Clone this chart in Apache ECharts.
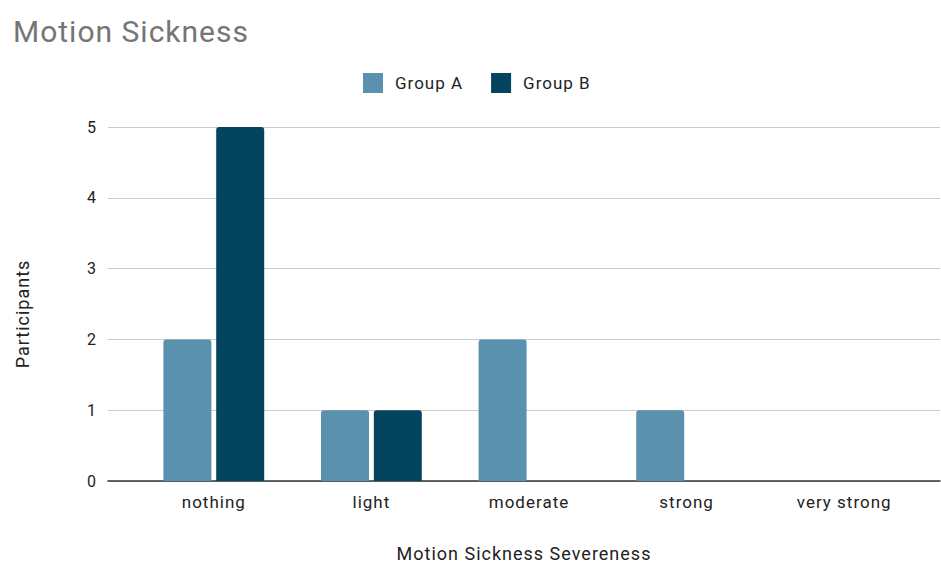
<!DOCTYPE html>
<html>
<head>
<meta charset="utf-8">
<script src="https://cdn.jsdelivr.net/npm/echarts@6/dist/echarts.min.js"></script>
<style>
  html, body { margin: 0; padding: 0; background: #fff; }
  #chart { width: 941px; height: 563px; }
  /* slightly open tracking for all chart text */
  #chart svg text { letter-spacing: 1px; }
</style>
</head>
<body>
<div id="chart"></div>
<script>
// Severity levels on the x axis
const categories = ['nothing', 'light', 'moderate', 'strong', 'very strong'];
// Number of participants per level
const groupA = [2, 1, 2, 1, 0];
const groupB = [5, 1, 0, 0, 0];
// Value axis ticks
const yTicks = [0, 1, 2, 3, 4, 5];

const FONT = 'Roboto';
const colorA = '#5a91af';
const colorB = '#03445f';
const textColor = '#222222';

const chart = echarts.init(document.getElementById('chart'), null, { renderer: 'svg' });

chart.setOption({
  backgroundColor: '#ffffff',
  animation: false,
  title: {
    text: 'Motion Sickness',
    left: 8,
    top: 11,
    textStyle: { fontFamily: FONT, fontSize: 30, fontWeight: 'normal', color: '#757575' }
  },
  legend: {
    data: ['Group A', 'Group B'],
    left: 358,
    top: 68,
    icon: 'rect',
    itemWidth: 20,
    itemHeight: 20,
    itemGap: 35,
    textStyle: { fontFamily: FONT, fontSize: 17, color: textColor, padding: [0, 0, 0, 7] }
  },
  grid: [
    // full-width grid carrying gridlines, baseline and value labels
    { left: 108, right: 1, top: 127, bottom: 82, outerBoundsMode: 'none' },
    // inset grid holding the bars and category labels
    { left: 135, right: 18, top: 127, bottom: 82, outerBoundsMode: 'none' }
  ],
  xAxis: [
    {
      gridIndex: 0,
      type: 'category',
      data: categories,
      axisLine: { show: true, lineStyle: { color: '#333', width: 1.5 } },
      axisTick: { show: false },
      axisLabel: { show: false },
      name: 'Motion Sickness Severeness',
      nameLocation: 'middle',
      nameGap: 63,
      nameTextStyle: { fontFamily: FONT, fontSize: 18, color: textColor }
    },
    {
      gridIndex: 1,
      type: 'category',
      data: categories,
      axisLine: { show: false },
      axisTick: { show: false },
      axisLabel: { fontFamily: FONT, fontSize: 17, color: textColor, margin: 12 }
    }
  ],
  yAxis: [
    {
      gridIndex: 0,
      type: 'value',
      min: yTicks[0],
      max: yTicks[yTicks.length - 1],
      interval: 1,
      axisLine: { show: false },
      axisTick: { show: false },
      axisLabel: { fontFamily: FONT, fontSize: 16, color: textColor, margin: 11 },
      splitLine: { lineStyle: { color: '#cccccc', width: 1 } },
      name: 'Participants',
      nameLocation: 'middle',
      nameRotate: 90,
      nameGap: 77,
      nameTextStyle: { fontFamily: FONT, fontSize: 18, color: textColor, padding: [0, 20, 0, 0] }
    },
    {
      gridIndex: 1,
      type: 'value',
      min: yTicks[0],
      max: yTicks[yTicks.length - 1],
      interval: 1,
      show: false
    }
  ],
  series: [
    {
      name: 'Group A',
      type: 'bar',
      xAxisIndex: 1,
      yAxisIndex: 1,
      data: groupA,
      barWidth: 48,
      barGap: '10%',
      itemStyle: { color: colorA, borderRadius: [3, 3, 0, 0] }
    },
    {
      name: 'Group B',
      type: 'bar',
      xAxisIndex: 1,
      yAxisIndex: 1,
      data: groupB,
      barWidth: 48,
      barGap: '10%',
      itemStyle: { color: colorB, borderRadius: [3, 3, 0, 0] }
    }
  ]
});
</script>
</body>
</html>
